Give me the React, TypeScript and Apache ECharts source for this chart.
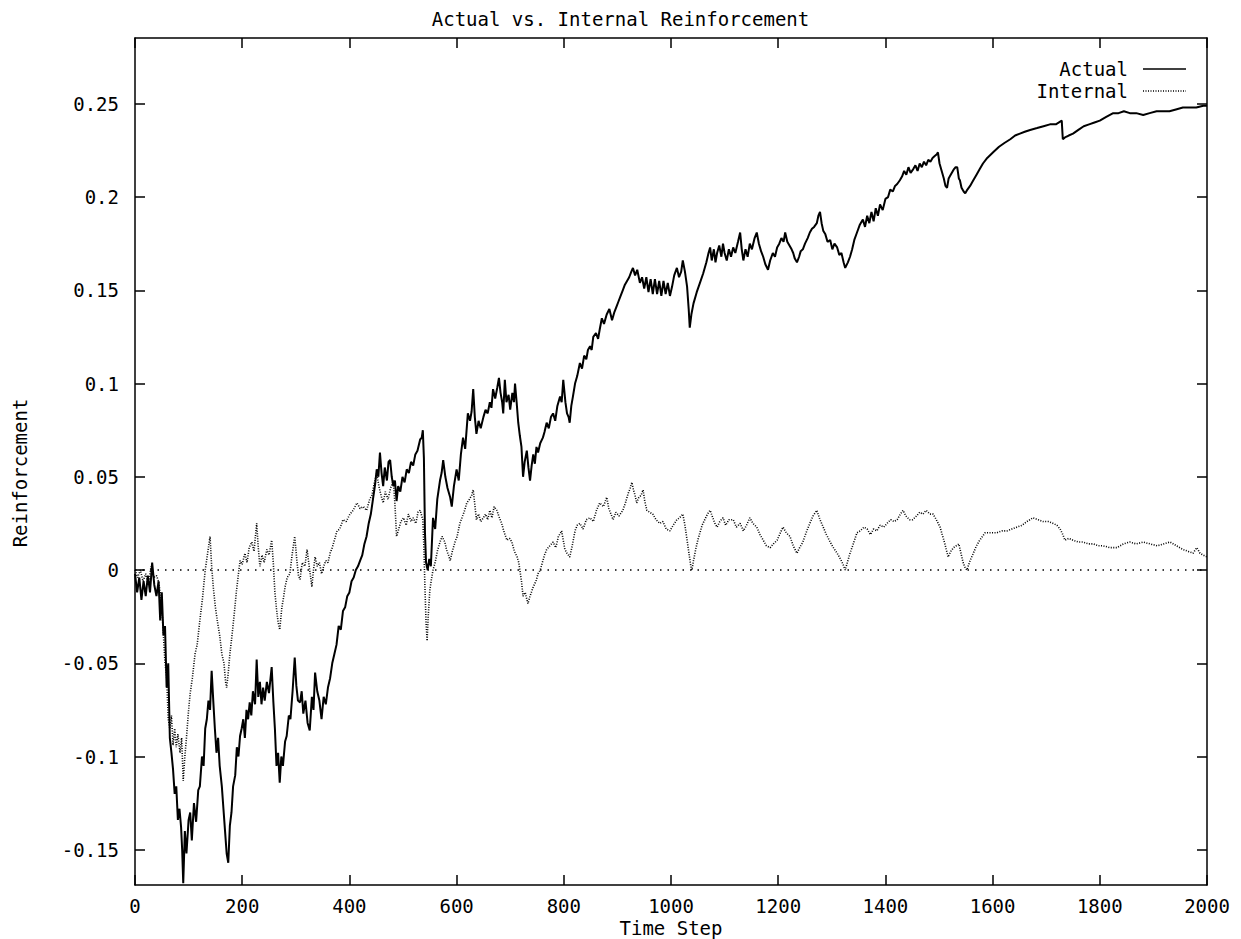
import React, { useEffect, useRef } from "react";
import * as echarts from "echarts";

const chartTitle = "Actual vs. Internal Reinforcement";
const xAxisTitle = "Time Step";
const yAxisTitle = "Reinforcement";
const seriesNames = ["Actual", "Internal"];
const yTickValues = [-0.15, -0.1, -0.05, 0, 0.05, 0.1, 0.15, 0.2, 0.25];
const xTickValues = [0, 200, 400, 600, 800, 1000, 1200, 1400, 1600, 1800, 2000];

const actualData: [number, number][] = [
  [0, -0.002], [4, -0.012], [8, -0.004], [12, -0.016], [16, -0.006], [20, -0.014], [24, -0.003], [28, -0.012], [32, 0.004], [36, -0.008],
  [40, -0.014], [44, -0.006], [47, -0.027], [50, -0.012], [53, -0.035], [56, -0.03], [59, -0.063], [62, -0.05], [65, -0.09], [68, -0.098],
  [71, -0.107], [74, -0.12], [77, -0.116], [80, -0.134], [83, -0.128], [86, -0.138], [88, -0.15], [90, -0.168], [93, -0.14], [96, -0.152],
  [100, -0.134], [103, -0.13], [106, -0.145], [110, -0.125], [114, -0.135], [118, -0.118], [121, -0.116], [125, -0.1], [128, -0.105], [131, -0.085],
  [134, -0.08], [137, -0.07], [140, -0.075], [143, -0.054], [146, -0.07], [149, -0.085], [152, -0.098], [155, -0.09], [158, -0.105], [162, -0.116],
  [165, -0.128], [168, -0.14], [171, -0.152], [174, -0.157], [177, -0.137], [180, -0.13], [183, -0.116], [187, -0.11], [190, -0.095], [193, -0.1],
  [196, -0.089], [199, -0.085], [202, -0.08], [205, -0.09], [208, -0.075], [211, -0.08], [214, -0.071], [217, -0.078], [220, -0.065], [224, -0.072],
  [227, -0.048], [230, -0.068], [233, -0.06], [236, -0.072], [239, -0.063], [242, -0.07], [246, -0.06], [250, -0.066], [255, -0.052], [258, -0.07],
  [261, -0.085], [264, -0.105], [267, -0.098], [270, -0.114], [273, -0.1], [276, -0.105], [280, -0.092], [283, -0.089], [287, -0.078], [290, -0.08],
  [294, -0.065], [298, -0.047], [301, -0.062], [304, -0.07], [308, -0.071], [311, -0.065], [314, -0.077], [318, -0.07], [322, -0.082], [326, -0.086],
  [330, -0.068], [333, -0.075], [336, -0.055], [340, -0.065], [344, -0.07], [348, -0.08], [352, -0.068], [356, -0.072], [360, -0.063], [364, -0.058],
  [368, -0.05], [372, -0.045], [376, -0.04], [380, -0.03], [384, -0.032], [388, -0.022], [392, -0.02], [396, -0.014], [400, -0.012], [404, -0.006],
  [408, -0.004], [412, 0.0], [416, 0.002], [420, 0.005], [424, 0.008], [428, 0.014], [432, 0.018], [436, 0.025], [440, 0.03], [444, 0.038],
  [448, 0.046], [451, 0.054], [454, 0.05], [457, 0.063], [460, 0.052], [463, 0.045], [466, 0.055], [470, 0.048], [473, 0.058], [476, 0.059],
  [479, 0.05], [482, 0.045], [485, 0.048], [488, 0.037], [491, 0.045], [495, 0.042], [499, 0.05], [503, 0.047], [507, 0.054], [511, 0.052],
  [515, 0.058], [519, 0.056], [523, 0.062], [527, 0.064], [532, 0.07], [535, 0.071], [537, 0.075], [539, 0.06], [541, 0.02], [543, 0.004],
  [546, 0.0], [549, 0.006], [552, 0.002], [556, 0.028], [560, 0.022], [564, 0.038], [569, 0.048], [572, 0.052], [575, 0.059], [579, 0.05],
  [583, 0.044], [588, 0.039], [591, 0.034], [595, 0.045], [600, 0.054], [604, 0.048], [608, 0.062], [612, 0.071], [616, 0.065], [621, 0.084],
  [625, 0.08], [628, 0.085], [631, 0.097], [634, 0.082], [637, 0.073], [641, 0.08], [645, 0.076], [650, 0.082], [654, 0.086], [658, 0.084],
  [662, 0.09], [665, 0.087], [668, 0.097], [672, 0.092], [676, 0.098], [679, 0.103], [682, 0.095], [685, 0.09], [687, 0.084], [690, 0.102],
  [693, 0.09], [697, 0.094], [700, 0.086], [704, 0.095], [707, 0.09], [709, 0.1], [712, 0.09], [715, 0.079], [718, 0.072], [721, 0.066],
  [724, 0.05], [727, 0.058], [731, 0.064], [734, 0.055], [737, 0.048], [740, 0.056], [743, 0.062], [746, 0.057], [749, 0.066], [752, 0.063],
  [756, 0.068], [761, 0.071], [764, 0.074], [768, 0.079], [772, 0.076], [776, 0.082], [780, 0.084], [784, 0.08], [788, 0.088], [793, 0.093],
  [796, 0.09], [799, 0.102], [803, 0.09], [806, 0.084], [809, 0.082], [811, 0.079], [814, 0.088], [817, 0.093], [821, 0.1], [825, 0.104],
  [830, 0.111], [834, 0.108], [838, 0.115], [842, 0.113], [845, 0.118], [849, 0.12], [852, 0.118], [855, 0.125], [860, 0.127], [864, 0.124],
  [867, 0.129], [871, 0.135], [875, 0.132], [880, 0.137], [885, 0.14], [890, 0.134], [894, 0.138], [898, 0.141], [902, 0.144], [906, 0.147],
  [910, 0.15], [914, 0.153], [918, 0.155], [922, 0.157], [926, 0.16], [929, 0.162], [933, 0.158], [937, 0.161], [942, 0.154], [946, 0.157],
  [950, 0.151], [954, 0.157], [958, 0.149], [962, 0.156], [966, 0.148], [970, 0.156], [974, 0.148], [978, 0.155], [982, 0.147], [986, 0.155],
  [990, 0.148], [994, 0.154], [998, 0.147], [1002, 0.152], [1006, 0.158], [1011, 0.162], [1015, 0.157], [1019, 0.16], [1022, 0.166], [1026, 0.16],
  [1030, 0.152], [1033, 0.14], [1035, 0.13], [1038, 0.137], [1042, 0.143], [1048, 0.149], [1054, 0.154], [1060, 0.159], [1066, 0.165], [1070, 0.17],
  [1073, 0.173], [1076, 0.166], [1080, 0.172], [1083, 0.165], [1086, 0.17], [1090, 0.174], [1094, 0.168], [1097, 0.175], [1100, 0.17], [1104, 0.166],
  [1108, 0.172], [1112, 0.168], [1116, 0.173], [1120, 0.17], [1125, 0.176], [1129, 0.181], [1132, 0.172], [1135, 0.166], [1139, 0.172], [1143, 0.168],
  [1147, 0.175], [1151, 0.172], [1156, 0.178], [1160, 0.181], [1164, 0.175], [1168, 0.171], [1172, 0.168], [1176, 0.164], [1181, 0.161], [1185, 0.166],
  [1190, 0.17], [1194, 0.168], [1198, 0.173], [1202, 0.175], [1206, 0.178], [1210, 0.176], [1213, 0.181], [1217, 0.176], [1221, 0.174], [1225, 0.172],
  [1228, 0.17], [1231, 0.167], [1235, 0.165], [1239, 0.168], [1242, 0.171], [1246, 0.172], [1250, 0.175], [1255, 0.178], [1259, 0.181], [1263, 0.183],
  [1267, 0.184], [1272, 0.186], [1275, 0.19], [1278, 0.192], [1281, 0.186], [1284, 0.182], [1288, 0.18], [1292, 0.176], [1297, 0.177], [1301, 0.172],
  [1305, 0.175], [1310, 0.173], [1314, 0.169], [1318, 0.17], [1322, 0.165], [1325, 0.162], [1330, 0.165], [1334, 0.168], [1338, 0.172], [1342, 0.177],
  [1347, 0.181], [1352, 0.185], [1358, 0.188], [1362, 0.184], [1366, 0.19], [1370, 0.186], [1374, 0.192], [1378, 0.187], [1382, 0.194], [1386, 0.19],
  [1390, 0.196], [1395, 0.193], [1400, 0.199], [1405, 0.2], [1409, 0.204], [1414, 0.203], [1418, 0.206], [1422, 0.207], [1427, 0.209], [1431, 0.211],
  [1435, 0.214], [1439, 0.212], [1443, 0.216], [1447, 0.213], [1452, 0.215], [1456, 0.217], [1460, 0.214], [1464, 0.218], [1468, 0.216], [1472, 0.219],
  [1476, 0.217], [1480, 0.22], [1484, 0.219], [1488, 0.221], [1492, 0.222], [1496, 0.223], [1498, 0.224], [1501, 0.218], [1505, 0.214], [1509, 0.21],
  [1512, 0.206], [1515, 0.205], [1518, 0.21], [1520, 0.211], [1524, 0.213], [1528, 0.215], [1531, 0.216], [1534, 0.216], [1537, 0.21], [1539, 0.209],
  [1542, 0.205], [1546, 0.203], [1549, 0.202], [1553, 0.204], [1558, 0.206], [1564, 0.209], [1570, 0.212], [1576, 0.215], [1582, 0.218], [1590, 0.221],
  [1601, 0.224], [1612, 0.227], [1622, 0.229], [1633, 0.231], [1642, 0.233], [1651, 0.234], [1660, 0.235], [1670, 0.236], [1683, 0.237], [1695, 0.238],
  [1707, 0.239], [1718, 0.239], [1729, 0.241], [1731, 0.231], [1735, 0.232], [1742, 0.233], [1750, 0.234], [1760, 0.236], [1770, 0.238], [1780, 0.239],
  [1790, 0.24], [1800, 0.241], [1812, 0.243], [1825, 0.245], [1835, 0.245], [1845, 0.246], [1856, 0.245], [1868, 0.245], [1881, 0.244], [1893, 0.245],
  [1906, 0.246], [1918, 0.246], [1930, 0.246], [1942, 0.247], [1955, 0.248], [1968, 0.248], [1980, 0.248], [1993, 0.249], [2000, 0.249],
];

const internalData: [number, number][] = [
  [0, 0.0], [5, -0.004], [10, 0.0], [15, -0.006], [20, -0.002], [25, -0.008], [30, 0.002], [35, -0.004], [40, -0.003], [44, -0.006],
  [47, -0.012], [50, -0.02], [53, -0.035], [56, -0.05], [59, -0.057], [62, -0.08], [65, -0.085], [68, -0.078], [71, -0.094], [74, -0.085],
  [77, -0.095], [80, -0.088], [84, -0.098], [87, -0.09], [90, -0.113], [93, -0.1], [96, -0.09], [100, -0.075], [103, -0.066], [107, -0.058],
  [112, -0.045], [116, -0.04], [121, -0.027], [126, -0.015], [131, 0.0], [135, 0.008], [140, 0.018], [143, 0.002], [146, -0.009], [150, -0.02],
  [154, -0.028], [158, -0.035], [162, -0.045], [166, -0.05], [169, -0.06], [171, -0.063], [174, -0.055], [177, -0.045], [181, -0.035], [185, -0.024],
  [189, -0.012], [193, -0.002], [196, 0.005], [200, 0.003], [205, 0.009], [209, 0.004], [213, 0.012], [218, 0.015], [222, 0.01], [227, 0.025],
  [230, 0.012], [233, 0.002], [237, 0.008], [241, 0.004], [246, 0.011], [250, 0.008], [255, 0.016], [258, 0.004], [261, -0.012], [264, -0.021],
  [267, -0.028], [270, -0.032], [274, -0.02], [277, -0.015], [280, -0.009], [284, -0.004], [289, -0.002], [293, 0.008], [298, 0.018], [302, 0.005],
  [305, -0.003], [308, -0.005], [312, 0.004], [317, 0.002], [321, 0.011], [325, 0.002], [330, -0.009], [333, 0.0], [336, 0.007], [340, 0.002],
  [344, 0.004], [348, -0.002], [352, 0.002], [356, 0.005], [360, 0.004], [364, 0.009], [368, 0.012], [372, 0.016], [377, 0.021], [382, 0.022],
  [388, 0.027], [394, 0.026], [401, 0.03], [407, 0.032], [414, 0.036], [420, 0.033], [426, 0.034], [432, 0.032], [438, 0.038], [442, 0.04],
  [446, 0.046], [451, 0.052], [455, 0.045], [459, 0.04], [463, 0.036], [467, 0.042], [472, 0.038], [477, 0.044], [482, 0.048], [485, 0.035],
  [488, 0.018], [492, 0.022], [496, 0.026], [501, 0.028], [506, 0.024], [510, 0.03], [515, 0.026], [519, 0.028], [524, 0.025], [528, 0.031],
  [532, 0.032], [535, 0.029], [537, 0.027], [539, 0.012], [541, -0.01], [543, -0.028], [545, -0.038], [547, -0.025], [550, -0.011], [553, -0.005],
  [556, 0.0], [560, 0.004], [564, 0.01], [569, 0.015], [573, 0.018], [578, 0.015], [582, 0.01], [585, 0.008], [588, 0.005], [592, 0.01],
  [597, 0.015], [601, 0.018], [606, 0.025], [610, 0.028], [615, 0.032], [619, 0.036], [624, 0.038], [628, 0.04], [631, 0.043], [634, 0.035],
  [637, 0.027], [641, 0.03], [645, 0.026], [650, 0.028], [654, 0.03], [658, 0.027], [662, 0.032], [666, 0.028], [670, 0.034], [675, 0.032],
  [680, 0.028], [684, 0.025], [689, 0.02], [694, 0.016], [699, 0.017], [703, 0.015], [708, 0.01], [713, 0.007], [716, 0.004], [718, 0.0],
  [721, -0.006], [724, -0.014], [728, -0.012], [733, -0.018], [737, -0.014], [743, -0.009], [748, -0.006], [752, -0.002], [756, 0.0], [760, 0.004],
  [764, 0.008], [768, 0.011], [774, 0.013], [780, 0.015], [785, 0.012], [790, 0.018], [796, 0.021], [799, 0.016], [802, 0.011], [806, 0.009],
  [811, 0.007], [815, 0.012], [821, 0.021], [825, 0.024], [830, 0.025], [836, 0.022], [842, 0.027], [849, 0.028], [855, 0.026], [861, 0.032],
  [867, 0.036], [874, 0.034], [880, 0.039], [884, 0.033], [888, 0.03], [892, 0.027], [897, 0.031], [903, 0.029], [910, 0.032], [915, 0.036],
  [920, 0.041], [924, 0.044], [927, 0.047], [930, 0.043], [933, 0.04], [936, 0.036], [940, 0.039], [944, 0.04], [948, 0.043], [951, 0.037],
  [955, 0.032], [960, 0.031], [966, 0.03], [972, 0.027], [979, 0.025], [985, 0.026], [991, 0.022], [998, 0.021], [1004, 0.024], [1011, 0.027],
  [1016, 0.028], [1022, 0.03], [1026, 0.024], [1030, 0.016], [1034, 0.008], [1037, 0.002], [1039, 0.0], [1042, 0.005], [1046, 0.011], [1050, 0.016],
  [1054, 0.02], [1058, 0.024], [1063, 0.027], [1068, 0.03], [1073, 0.032], [1078, 0.028], [1082, 0.025], [1086, 0.023], [1091, 0.026], [1097, 0.028],
  [1102, 0.024], [1108, 0.027], [1116, 0.027], [1122, 0.023], [1129, 0.025], [1135, 0.021], [1141, 0.024], [1147, 0.028], [1153, 0.025], [1160, 0.023],
  [1166, 0.019], [1172, 0.016], [1178, 0.013], [1185, 0.012], [1191, 0.014], [1198, 0.016], [1204, 0.02], [1209, 0.023], [1215, 0.02], [1222, 0.018],
  [1228, 0.013], [1235, 0.009], [1240, 0.012], [1246, 0.015], [1252, 0.02], [1259, 0.025], [1265, 0.029], [1272, 0.032], [1278, 0.027], [1284, 0.023],
  [1290, 0.019], [1297, 0.015], [1303, 0.012], [1310, 0.009], [1316, 0.006], [1321, 0.003], [1325, 0.0], [1330, 0.005], [1334, 0.009], [1340, 0.014],
  [1347, 0.02], [1353, 0.021], [1360, 0.023], [1366, 0.022], [1372, 0.019], [1378, 0.022], [1384, 0.021], [1390, 0.024], [1397, 0.023], [1403, 0.025],
  [1410, 0.027], [1416, 0.026], [1422, 0.027], [1428, 0.03], [1433, 0.032], [1438, 0.029], [1445, 0.027], [1451, 0.027], [1458, 0.029], [1464, 0.031],
  [1470, 0.03], [1476, 0.032], [1483, 0.03], [1489, 0.03], [1495, 0.027], [1502, 0.023], [1507, 0.018], [1511, 0.014], [1517, 0.007], [1522, 0.01],
  [1527, 0.012], [1532, 0.013], [1537, 0.014], [1541, 0.009], [1545, 0.004], [1549, 0.001], [1552, 0.0], [1558, 0.005], [1564, 0.009], [1570, 0.013],
  [1576, 0.016], [1581, 0.018], [1586, 0.02], [1597, 0.02], [1608, 0.02], [1618, 0.021], [1627, 0.021], [1636, 0.022], [1645, 0.023], [1655, 0.024],
  [1664, 0.026], [1670, 0.027], [1675, 0.028], [1685, 0.027], [1694, 0.026], [1704, 0.026], [1713, 0.025], [1720, 0.024], [1726, 0.022], [1731, 0.019],
  [1735, 0.016], [1742, 0.017], [1750, 0.016], [1760, 0.015], [1769, 0.015], [1779, 0.014], [1788, 0.014], [1797, 0.013], [1806, 0.013], [1819, 0.012],
  [1832, 0.012], [1844, 0.014], [1856, 0.015], [1868, 0.014], [1881, 0.015], [1894, 0.014], [1907, 0.013], [1919, 0.014], [1931, 0.015], [1943, 0.013],
  [1955, 0.011], [1965, 0.01], [1974, 0.009], [1981, 0.012], [1987, 0.009], [1993, 0.008], [2000, 0.007],
];

const FONT = "DejaVu Sans Mono";
const FONT_SIZE = 19;
const Y_MIN = -0.1689;
const Y_MAX = 0.2853;

const fmt = (v: number) => String(Number(v.toFixed(2)));

export default function App() {
  const ref = useRef<HTMLDivElement>(null);
  useEffect(() => {
    if (!ref.current) return;
    const chart = echarts.init(ref.current, undefined, { renderer: "svg" });
    const textStyle = { fontFamily: FONT, fontSize: FONT_SIZE, color: "#000" };
    const tickStyle = { color: "#000", width: 1.5 };
    const axisLineStyle = { color: "#000", width: 1.5 };
    const yAxisBase = {
      type: "value",
      min: Y_MIN,
      max: Y_MAX,
      splitLine: { show: false },
      axisLine: { show: true, onZero: false, lineStyle: axisLineStyle },
    };
    const xAxisBase = {
      type: "value",
      min: xTickValues[0],
      max: xTickValues[xTickValues.length - 1],
      interval: xTickValues[1] - xTickValues[0],
      axisLine: { show: true, onZero: false, lineStyle: axisLineStyle },
      splitLine: { show: false },
    };
    const textFont = `${FONT_SIZE}px "${FONT}"`;
    chart.setOption({
      animation: false,
      backgroundColor: "#fff",
      textStyle: { fontFamily: FONT },
      grid: {
        left: 135,
        right: 34,
        top: 38,
        bottom: 54,
        show: false,
        containLabel: false,
        outerBoundsMode: "none",
      },
      title: {
        text: chartTitle,
        left: "center",
        top: 4,
        textStyle: { fontFamily: FONT, fontSize: FONT_SIZE, fontWeight: "normal", color: "#000" },
      },
      xAxis: [
        {
          ...xAxisBase,
          position: "bottom",
          axisTick: { show: true, inside: true, length: 10, customValues: xTickValues, lineStyle: tickStyle },
          axisLabel: { ...textStyle, margin: 11, customValues: xTickValues, formatter: (v: number) => String(v) },
        },
        {
          ...xAxisBase,
          position: "top",
          axisTick: { show: true, inside: true, length: 10, customValues: xTickValues, lineStyle: tickStyle },
          axisLabel: { show: false, customValues: xTickValues },
        },
      ],
      yAxis: [
        {
          ...yAxisBase,
          position: "left",
          axisTick: { show: true, inside: true, length: 10, customValues: yTickValues, lineStyle: tickStyle },
          axisLabel: { ...textStyle, margin: 16, customValues: yTickValues, formatter: (v: number) => fmt(v) },
        },
        {
          ...yAxisBase,
          position: "right",
          axisTick: { show: true, inside: true, length: 10, customValues: yTickValues, lineStyle: tickStyle },
          axisLabel: { show: false, customValues: yTickValues },
        },
      ],
      graphic: [
        {
          type: "text",
          x: 671,
          y: 928,
          style: { text: xAxisTitle, font: textFont, fill: "#000", align: "center", verticalAlign: "middle" },
        },
        {
          type: "text",
          x: 20,
          y: 473,
          rotation: Math.PI / 2,
          style: { text: yAxisTitle, font: textFont, fill: "#000", align: "center", verticalAlign: "middle" },
        },
        {
          type: "text",
          x: 1128,
          y: 69,
          style: { text: seriesNames[0], font: textFont, fill: "#000", align: "right", verticalAlign: "middle" },
        },
        {
          type: "line",
          shape: { x1: 1143, y1: 69, x2: 1186, y2: 69 },
          style: { stroke: "#000", lineWidth: 1.6 },
        },
        {
          type: "text",
          x: 1128,
          y: 91,
          style: { text: seriesNames[1], font: textFont, fill: "#000", align: "right", verticalAlign: "middle" },
        },
        {
          type: "line",
          shape: { x1: 1143, y1: 91, x2: 1186, y2: 91 },
          style: { stroke: "#000", lineWidth: 1.4, lineDash: [1, 1.5] },
        },
      ],
      series: [
        {
          name: seriesNames[0],
          type: "line",
          xAxisIndex: 0,
          yAxisIndex: 0,
          data: actualData,
          symbol: "none",
          showSymbol: false,
          lineStyle: { color: "#000", width: 2 },
          itemStyle: { color: "#000" },
          z: 3,
          markLine: {
            silent: true,
            symbol: "none",
            label: { show: false },
            lineStyle: { color: "#000", width: 1.5, type: [1.5, 6] },
            data: [{ yAxis: 0 }],
          },
        },
        {
          name: seriesNames[1],
          type: "line",
          xAxisIndex: 0,
          yAxisIndex: 0,
          data: internalData,
          symbol: "none",
          showSymbol: false,
          lineStyle: { color: "#000", width: 1.6, type: [1, 1.5] },
          itemStyle: { color: "#000" },
          z: 2,
        },
      ],
    });
    return () => chart.dispose();
  }, []);
  return (
    <div
      ref={ref}
      style={{ position: "fixed", left: 0, top: 0, width: 1241, height: 939, background: "#fff" }}
    />
  );
}
